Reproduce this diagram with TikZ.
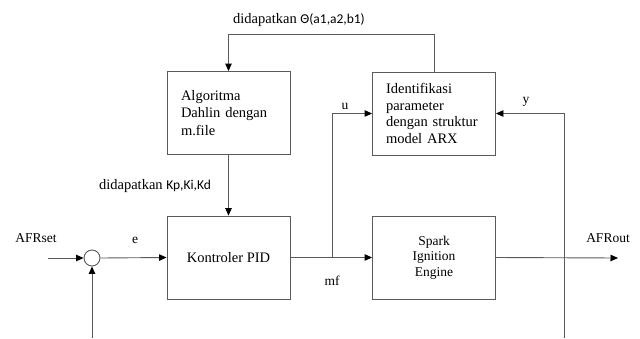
\documentclass[tikz,border=0pt]{standalone}
\usepackage{fontspec}
\setmainfont{Liberation Serif}
\newfontfamily\carl{Carlito}
\usetikzlibrary{arrows.meta}
\definecolor{linegray}{HTML}{5A5A5A}
\tikzset{
  blockbox/.style={draw=linegray, line width=0.9pt, rectangle, minimum width=123pt, minimum height=83pt, inner sep=0pt},
  boxtext/.style={font=\fontsize{14.5}{17.5}\selectfont},
  lbl/.style={font=\fontsize{13.5}{16}\selectfont, inner sep=0pt},
  conn/.style={draw=linegray, line width=0.9pt},
  arr/.style={conn, -{Triangle[length=7.5pt,width=6.5pt,color=black]}}
}
\begin{document}
\begin{tikzpicture}[x=1pt,y=-1pt]
\useasboundingbox (0,0) rectangle (640,338);

% blocks
\node[blockbox, boxtext, text width=95pt, align=left] (alg) at (228.5,113) {Algoritma\\Dahlin dengan\\m.file};
\node[blockbox, boxtext] (pid) at (228.5,257.5) {Kontroler PID};
\node[blockbox, boxtext, text width=96pt, align=left, font=\fontsize{14.5}{16.5}\selectfont] (idf) at (434,113.5) {Identifikasi\\parameter\\dengan struktur\\model ARX};
\node[blockbox, align=center, font=\fontsize{13.5}{15.5}\selectfont] (eng) at (434,257.5) {Spark\\Ignition\\Engine};
\node[draw=linegray, line width=0.9pt, circle, minimum size=16pt, inner sep=0pt] (sum) at (92,258) {};

% free ends and junctions
\coordinate (top) at (434,34);
\coordinate (in) at (48,258);
\coordinate (br) at (332,258);
\coordinate (out) at (618,258);
\coordinate (ybot) at (564,338);
\coordinate (fbot) at (92,338);

% connectors
\draw[arr] (idf.north) -- (top) -| (alg.north);
\draw[arr] (alg.south) -- (pid.north);
\draw[arr] (in) -- (sum.west);
\draw[arr] (sum.east) -- (pid.west);
\draw[arr] (pid.east) -- (eng.west);
\draw[arr] (br) |- (idf.west);
\draw[arr] (eng.east) -- (out);
\draw[arr] (ybot) |- (idf.east);
\draw[arr] (fbot) -- (sum.south);

% labels
\node[lbl, font=\fontsize{14.5}{16}\selectfont] (toplbl) at (299,20) {didapatkan {\carl\fontsize{13.5}{16}\selectfont Θ(a1,a2,b1)}};
\node[lbl, font=\fontsize{14.5}{16}\selectfont] (klbl) at (155,186) {didapatkan {\carl\fontsize{13.5}{16}\selectfont Kp,Ki,Kd}};
\node[lbl] (afrset) at (36,238) {AFRset};
\node[lbl] (elbl) at (135,240) {e};
\node[lbl] (ulbl) at (345,106) {u};
\node[lbl] (ylbl) at (526,102) {y};
\node[lbl] (mflbl) at (332,281) {mf};
\node[lbl] (afrout) at (608,238) {AFRout};
\end{tikzpicture}
\end{document}
